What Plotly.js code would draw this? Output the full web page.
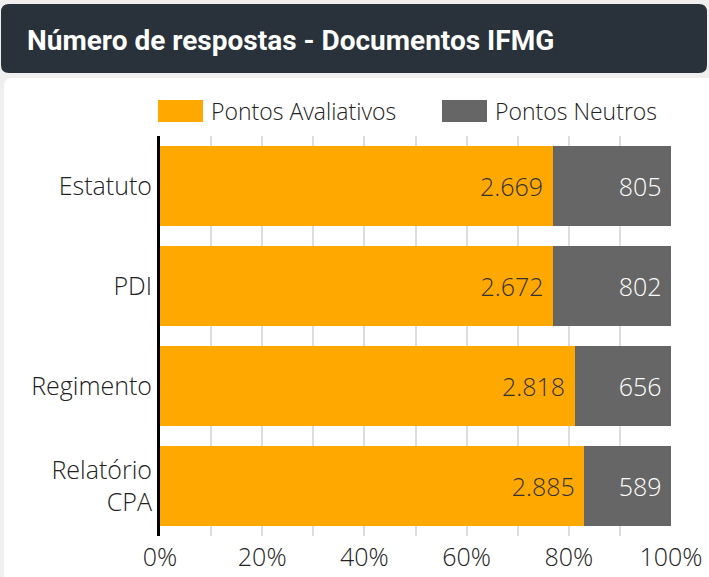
<!DOCTYPE html>
<html>
<head>
<meta charset="utf-8">
<script src="https://cdn.plot.ly/plotly-3.0.1.min.js"></script>
<style>html,body{margin:0;padding:0;background:#efefef;}#chart{width:709px;height:577px;}</style>
</head>
<body>
<div id="chart"></div>
<script>
const categories = ['Estatuto', 'PDI', 'Regimento', 'Relatório<br>CPA'];
const avaliativos = [2669, 2672, 2818, 2885];
const neutros = [805, 802, 656, 589];
const seriesNames = ['Pontos Avaliativos', 'Pontos Neutros'];
const xTickVals = [0, 20, 40, 60, 80, 100];
const xTickText = ['0%', '20%', '40%', '60%', '80%', '100%'];
const chartTitle = 'Número de respostas - Documentos IFMG';

const W = 709, H = 577;
const L = 160, R = 38, T = 136, B = 41;
const pw = W - L - R, ph = H - T - B;
const px = x => (x - L) / pw;
const py = y => (H - B - y) / ph;
function roundRect(x0, y0, x1, y1, r) {
  const rx = r / pw, ry = r / ph;
  const a = px(x0), b = px(x1), c = py(y0), d = py(y1);
  return `M ${a + rx} ${c} L ${b - rx} ${c} Q ${b} ${c} ${b} ${c - ry} L ${b} ${d + ry} Q ${b} ${d} ${b - rx} ${d} L ${a + rx} ${d} Q ${a} ${d} ${a} ${d + ry} L ${a} ${c - ry} Q ${a} ${c} ${a + rx} ${c} Z`;
}
const fmt = v => String(v).replace(/\B(?=(\d{3})+(?!\d))/g, '.') + '\u00a0';
const FONT = 'Open Sans, sans-serif';
const WEIGHT = 300;
const colors = ['#FFA800', '#666666'];

const traces = [
  {
    type: 'bar', orientation: 'h', name: seriesNames[0],
    y: categories, x: avaliativos, text: avaliativos.map(fmt),
    marker: {color: colors[0]},
    textposition: 'inside', insidetextanchor: 'end',
    textfont: {family: FONT, size: 25, color: '#333333', weight: WEIGHT},
    hoverinfo: 'skip', showlegend: false
  },
  {
    type: 'bar', orientation: 'h', name: seriesNames[1],
    y: categories, x: neutros, text: neutros.map(fmt),
    marker: {color: colors[1]},
    textposition: 'inside', insidetextanchor: 'end',
    textfont: {family: FONT, size: 25, color: '#ffffff', weight: WEIGHT},
    hoverinfo: 'skip', showlegend: false
  }
];

const shapes = [
  {type: 'path', xref: 'paper', yref: 'paper', layer: 'below', path: roundRect(1, 4, 707, 73, 8), fillcolor: '#29323A', line: {width: 0}},
  {type: 'path', xref: 'paper', yref: 'paper', layer: 'below', path: roundRect(4, 78, 716, 600, 8), fillcolor: '#ffffff', line: {width: 0}},
  {type: 'rect', xref: 'paper', yref: 'paper', x0: px(158), x1: px(203), y0: py(100), y1: py(122), fillcolor: colors[0], line: {width: 0}},
  {type: 'rect', xref: 'paper', yref: 'paper', x0: px(442), x1: px(487), y0: py(100), y1: py(122), fillcolor: colors[1], line: {width: 0}}
];

const annotations = [
  {xref: 'paper', yref: 'paper', x: px(209), y: py(111), xanchor: 'left', yanchor: 'middle', text: seriesNames[0], showarrow: false, font: {family: FONT, size: 23, color: '#222222', weight: WEIGHT}},
  {xref: 'paper', yref: 'paper', x: px(493), y: py(111), xanchor: 'left', yanchor: 'middle', text: seriesNames[1], showarrow: false, font: {family: FONT, size: 23, color: '#222222', weight: WEIGHT}}
];

const layout = {
  width: W, height: H,
  margin: {l: L, r: R, t: T, b: B, pad: 0},
  paper_bgcolor: '#efefef', plot_bgcolor: 'rgba(0,0,0,0)',
  title: {text: '<b>' + chartTitle + '</b>', xref: 'container', yref: 'container', x: 27 / W, xanchor: 'left', y: 1 - 40 / H, yanchor: 'middle', font: {family: 'Roboto, sans-serif', size: 28, color: '#ffffff'}},
  barmode: 'stack', barnorm: 'percent', bargap: 0.2,
  showlegend: false,
  xaxis: {
    range: [0, 100], tickmode: 'array', tickvals: xTickVals, ticktext: xTickText,
    showgrid: true, gridcolor: '#dddddd', gridwidth: 2,
    minor: {dtick: 10, tick0: 0, showgrid: true, gridcolor: '#dddddd', gridwidth: 2},
    zeroline: false, showline: false, ticks: '', ticklabelstandoff: 4,
    tickfont: {family: FONT, size: 25, color: '#222222', weight: WEIGHT}
  },
  yaxis: {
    autorange: 'reversed', showgrid: false, zeroline: false,
    showline: true, linecolor: '#000000', linewidth: 3, ticks: '',
    ticklabelstandoff: 0,
    tickfont: {family: FONT, size: 25, color: '#222222', weight: WEIGHT}
  },
  shapes: shapes, annotations: annotations
};

Plotly.newPlot('chart', traces, layout, {displayModeBar: false, staticPlot: true});
</script>
</body>
</html>
